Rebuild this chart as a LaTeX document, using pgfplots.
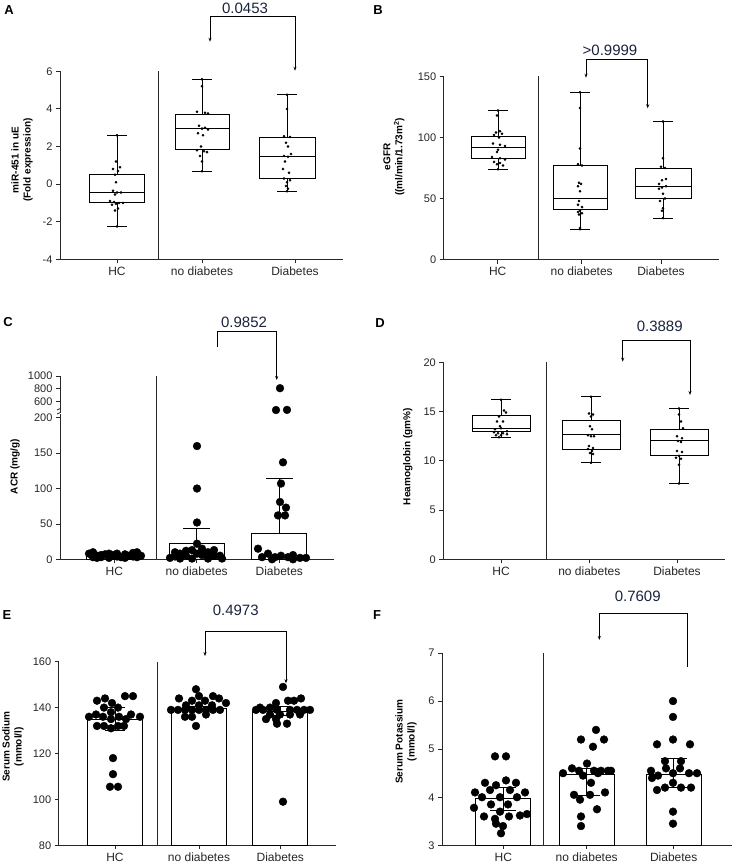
\documentclass[border=0pt]{standalone}
\usepackage{fontspec}
\setmainfont{Liberation Sans}
\usepackage{pgfplots}
\pgfplotsset{compat=1.18}
\usepgfplotslibrary{statistics}
\usetikzlibrary{arrows.meta}
\definecolor{pval}{RGB}{25,35,60}
\definecolor{axc}{RGB}{40,40,40}
\pgfplotsset{
  gp/.style={
    scale only axis, axis x line*=bottom, axis y line*=left,
    axis line style={-, line width=0.9pt, axc},
    tick style={line width=0.8pt, axc},
    tick align=outside, major tick length=4pt,
    tick label style={font=\fontsize{11}{13}\selectfont, text=black!85},
    xticklabel style={font=\fontsize{12}{14}\selectfont},
    /pgf/number format/assume math mode=true,
    /pgf/number format/1000 sep={},
    anchor=south west, boxplot/draw direction=y,
  },
  bx/.style={black, line width=0.9pt, solid},
  sdot/.style={only marks, mark=*, mark size=1.1pt, black},
  bdot/.style={only marks, mark=*, mark size=3.9pt, black},
  ebar/.style={ybar, bar width=55, fill=white, draw=black, line width=0.9pt,
    error bars/.cd, y dir=both, y explicit, error mark=none,
    error bar style={line width=0.9pt, black}},
  cap/.style={only marks, mark=-, mark size=#1, black, line width=0.9pt, mark options={line width=0.9pt}},
}
\tikzset{br/.style={line width=0.8pt, black, >={Stealth[length=4pt,width=3pt]}},
  pv/.style={text=pval, font=\fontsize{15}{17}\selectfont},
  yl/.style={rotate=90, align=center, font=\bfseries\fontsize{10}{12}\selectfont},
  pl/.style={font=\bfseries\fontsize{13}{15}\selectfont}}
\begin{document}
\begin{tikzpicture}
\useasboundingbox (0,0) rectangle (742pt,865pt);
% ---------------- A
\begin{axis}[gp, at={(60pt,605.7pt)}, width=283pt, height=188pt,
  xmin=60, xmax=343, ymin=-4, ymax=6, ytick={-4,-2,0,2,4,6},
  xtick={117,202,295}, xticklabels={HC,no diabetes,Diabetes}]
\addplot[bx, boxplot prepared={draw position=117, lower whisker=-2.25, lower quartile=-0.95, median=-0.45, upper quartile=0.5, upper whisker=2.6, box extend=55, whisker extend=20}] coordinates {};
\addplot[bx, boxplot prepared={draw position=202, lower whisker=0.68, lower quartile=1.82, median=2.95, upper quartile=3.72, upper whisker=5.58, box extend=54, whisker extend=20}] coordinates {};
\addplot[bx, boxplot prepared={draw position=287, lower whisker=-0.38, lower quartile=0.28, median=1.45, upper quartile=2.5, upper whisker=4.75, box extend=56, whisker extend=20}] coordinates {};
\addplot[sdot] coordinates {(117,2.6) (116,1.2) (120,0.9) (113,0.8) (118,0.7) (115,0.5) (116,0.1) (113,-0.35) (117,-0.45) (121,-0.45) (115,-0.55) (110,-0.9) (114,-0.95) (119,-1.0) (123,-1.0) (116,-1.05) (112,-1.1) (118,-1.3) (115,-1.4) (117,-2.25)};
\addplot[sdot] coordinates {(202,5.58) (202,5.2) (197,3.85) (205,3.8) (208,3.75) (199,3.1) (205,3.0) (202,2.95) (208,2.9) (198,2.7) (203,2.6) (201,2.0) (197,1.8) (204,1.75) (207,1.7) (200,1.5) (202,1.2) (202,0.68)};
\addplot[sdot] coordinates {(287,4.75) (287,4.0) (284,2.55) (290,2.5) (286,2.2) (288,2.0) (291,1.6) (284,1.5) (288,1.45) (285,1.2) (283,0.8) (289,0.6) (284,0.3) (290,0.2) (287,0.1) (286,-0.1) (288,-0.25) (287,-0.38)};
\end{axis}
% ---------------- B
\begin{axis}[gp, at={(443.7pt,605.3pt)}, width=275.3pt, height=183.4pt,
  xmin=443.7, xmax=719, ymin=0, ymax=150, ytick={0,50,100,150},
  xtick={497.7,581.7,661}, xticklabels={HC,no diabetes,Diabetes}]
\addplot[bx, boxplot prepared={draw position=498, lower whisker=74, lower quartile=83, median=92, upper quartile=101, upper whisker=122, box extend=54, whisker extend=20}] coordinates {};
\addplot[bx, boxplot prepared={draw position=580, lower whisker=25, lower quartile=41, median=50, upper quartile=77, upper whisker=137, box extend=54, whisker extend=20}] coordinates {};
\addplot[bx, boxplot prepared={draw position=663, lower whisker=34, lower quartile=50, median=60, upper quartile=75, upper whisker=113, box extend=56, whisker extend=20}] coordinates {};
\addplot[sdot] coordinates {(498,122) (497,118) (500,105) (496,104) (502,103) (494,102) (499,100) (493,95) (500,94) (505,93) (498,90) (497,88) (492,84) (500,83) (505,82) (494,80) (500,79) (497,78) (503,77) (498,74)};
\addplot[sdot] coordinates {(580,137) (580,124) (580,91) (578,78) (582,77) (579,63) (581,62) (578,60) (580,56) (579,48) (578,45) (582,43) (580,40) (578,39) (582,38) (579,37) (580,26) (580,25)};
\addplot[sdot] coordinates {(663,113) (663,83) (661,76) (665,75) (666,66) (662,65) (659,62) (666,60) (662,59) (659,58) (663,54) (665,50) (660,48) (663,42) (662,40) (663,34)};
\end{axis}
% ---------------- C lower
\begin{axis}[gp, at={(60pt,305.7pt)}, width=274pt, height=145.1pt,
  xmin=60, xmax=334, ymin=0, ymax=205, ytick={0,50,100,150,200},
  xtick={114.3,196.7,279.3}, xticklabels={HC,no diabetes,Diabetes}, clip=false]
\addplot[ebar] coordinates {(114.3,5) += (0,2) -= (0,0) (196.7,23) += (0,20) -= (0,0) (279.3,37) += (0,77) -= (0,0)};
\addplot[cap=13.5pt] coordinates {(114.3,7) (196.7,43) (279.3,114)};
\addplot[bdot] coordinates {(89,8) (93,10) (97,5) (101,3) (105,7) (109,2) (113,6) (117,4) (121,3) (125,7) (129,5) (133,9) (137,10) (141,5) (93,3) (101,6) (109,8) (117,8) (125,2) (133,4) (97,2) (137,3)};
\addplot[bdot] coordinates {(197,160) (197,100) (197,52) (197,22) (175,10) (170,2) (180,8) (186,5) (192,13) (202,15) (208,10) (214,13) (220,5) (222,1) (186,12) (192,1) (202,6) (208,1) (214,5) (175,4) (180,1) (197,8)};
\addplot[bdot] coordinates {(283,137) (281,107) (280,81) (286,73) (278,62) (285,62) (258,15) (262,3) (268,8) (275,3) (281,5) (288,3) (293,6) (300,2) (306,2) (272,0) (293,0)};
\end{axis}
% ---------------- C upper
\begin{axis}[gp, at={(60pt,452.4pt)}, width=274pt, height=36.6pt,
  axis x line=none, xmin=60, xmax=334, ymin=430, ymax=1000, ytick={600,800,1000}, clip=false]
\addplot[bdot] coordinates {(280,810) (276,470) (287,472)};
\end{axis}
% ---------------- D
\begin{axis}[gp, at={(443.3pt,305.7pt)}, width=281.7pt, height=197pt,
  xmin=443.3, xmax=725, ymin=0, ymax=20, ytick={0,5,10,15,20},
  xtick={501,589.3,677}, xticklabels={HC,no diabetes,Diabetes}]
\addplot[bx, boxplot prepared={draw position=501, lower whisker=12.4, lower quartile=13.0, median=13.3, upper quartile=14.6, upper whisker=16.2, box extend=58, whisker extend=20}] coordinates {};
\addplot[bx, boxplot prepared={draw position=591, lower whisker=9.8, lower quartile=11.2, median=12.7, upper quartile=14.1, upper whisker=16.5, box extend=58, whisker extend=20}] coordinates {};
\addplot[bx, boxplot prepared={draw position=679, lower whisker=7.7, lower quartile=10.5, median=12.1, upper quartile=13.2, upper whisker=15.3, box extend=58, whisker extend=20}] coordinates {};
\addplot[sdot] coordinates {(501,16.2) (504,15.1) (506,14.9) (499,14.5) (497,14.0) (503,14.0) (500,13.5) (501,13.3) (495,13.2) (507,13.0) (494,12.9) (498,12.8) (503,12.8) (507,12.7) (496,12.6) (501,12.6) (499,12.4)};
\addplot[sdot] coordinates {(591,16.5) (589,14.8) (593,14.7) (591,14.5) (590,13.5) (592,13.2) (588,12.6) (594,12.5) (591,12.5) (589,11.5) (593,11.3) (588,11.2) (592,11.0) (590,10.8) (593,10.7) (591,9.8)};
\addplot[sdot] coordinates {(679,15.3) (679,14.7) (681,14.0) (683,13.3) (677,12.5) (682,12.3) (678,12.0) (681,11.9) (677,11.0) (682,10.9) (679,10.5) (676,10.3) (681,10.2) (679,9.6) (679,7.7)};
\end{axis}
% ---------------- E
\begin{axis}[gp, at={(58.7pt,19.7pt)}, width=277.3pt, height=183.6pt,
  xmin=58.7, xmax=336, ymin=80, ymax=160, ytick={80,100,120,140,160},
  xtick={115,199,280.3}, xticklabels={HC,no diabetes,Diabetes}]
\addplot[ebar] coordinates {(115,135) +- (0,5) (199,139.5) +- (0,1) (280.3,138.5) +- (0,2)};
\addplot[cap=10pt] coordinates {(115,140) (115,130) (199,140.5) (199,138.5) (280.3,140.5) (280.3,136.5)};
\addplot[bdot] coordinates {(97,143) (105,144) (112,142) (125,145) (133,145) (104,140) (118,140) (111,138) (89,136) (96,137) (131,137) (140,136) (103,136) (119,136) (111,135) (126,135) (97,132) (104,132) (118,132) (124,132) (111,131) (113,118) (113,111) (110,105.5) (118,105.5)};
\addplot[bdot] coordinates {(196,148) (171,139) (178,139) (185,139) (192,139) (199,139) (206,139) (213,139) (220,139) (226,142) (179,144) (192,143) (205,143) (213,145) (219,144) (199,145) (186,141) (199,141) (212,141) (192,136) (206,137) (185,136) (196,132)};
\addplot[bdot] coordinates {(283,149) (301,144) (288,143) (294,143) (276,142) (256,139) (263,139) (270,140) (277,139) (290,139) (297,139) (304,139) (310,139) (260,140) (270,137) (280,137) (290,137) (300,137) (276,135) (266,135) (277,133) (287,133) (283,99)};
\end{axis}
% ---------------- F
\begin{axis}[gp, at={(442pt,19.7pt)}, width=290pt, height=192.3pt,
  xmin=442, xmax=732, ymin=3, ymax=7, ytick={3,4,5,6,7},
  xtick={503.3,586.7,673.7}, xticklabels={HC,no diabetes,Diabetes}]
\addplot[ebar] coordinates {(503.3,3.98) += (0,0.22) -= (0,0.25) (586.7,4.47) += (0,0.13) -= (0,0.44) (673.7,4.48) += (0,0.32) -= (0,0.28)};
\addplot[cap=13pt] coordinates {(503.3,4.2) (503.3,3.73) (586.7,4.6) (586.7,4.03) (673.7,4.8) (673.7,4.2)};
\addplot[bdot] coordinates {(495,4.85) (506,4.85) (485,4.3) (496,4.25) (506,4.35) (516,4.3) (475,4.1) (490,4.15) (510,4.15) (525,4.1) (482,4.0) (500,4.0) (517,4.0) (491,3.85) (508,3.85) (474,3.78) (500,3.7) (484,3.6) (495,3.55) (509,3.6) (520,3.62) (527,3.65) (496,3.45) (503,3.4) (501,3.25)};
\addplot[bdot] coordinates {(596,5.4) (581,5.2) (604,5.2) (593,5.05) (587,4.7) (572,4.6) (579,4.55) (594,4.55) (601,4.55) (608,4.55) (583,4.45) (598,4.5) (611,4.55) (563,4.5) (591,4.3) (574,4.05) (590,4.05) (605,4.1) (580,3.95) (597,3.75) (581,3.6) (581,3.4)};
\addplot[bdot] coordinates {(673,6.0) (673,5.67) (673,5.2) (657,5.1) (690,5.1) (665,4.75) (681,4.75) (651,4.55) (697,4.5) (666,4.6) (680,4.6) (658,4.45) (673,4.5) (689,4.5) (652,4.4) (673,4.3) (665,4.2) (681,4.2) (657,4.15) (691,4.2) (673,3.7) (673,3.45)};
\end{axis}
% ---------------- separators
\draw[line width=0.9pt, axc] (158.7pt,605.7pt) -- (158.7pt,793.7pt);
\draw[line width=0.9pt, axc] (538.7pt,605.3pt) -- (538.7pt,788.7pt);
\draw[line width=0.9pt, axc] (156pt,305.7pt) -- (156pt,489pt);
\draw[line width=0.9pt, axc] (546pt,305.7pt) -- (546pt,502.7pt);
\draw[line width=0.9pt, axc] (157pt,19.7pt) -- (157pt,203.3pt);
\draw[line width=0.9pt, axc] (543.7pt,19.7pt) -- (543.7pt,212pt);
% break marks on C
\draw[line width=0.8pt, axc] (57pt,451pt) -- (60pt,452.4pt);
\draw[line width=0.8pt, axc] (57pt,455pt) -- (60pt,456.4pt);
% ---------------- brackets
\draw[br, <->] (210pt,823.3pt) -- (210pt,849pt) -- (295pt,849pt) -- (295pt,794.3pt);
\node[pv] at (245pt,857pt) {0.0453};
\draw[br, <->] (586pt,787.3pt) -- (586pt,805.7pt) -- (647.7pt,805.7pt) -- (647.7pt,756.7pt);
\node[pv] at (610pt,815pt) {>0.9999};
\draw[br, ->] (217.3pt,517.7pt) -- (217.3pt,533.3pt) -- (276.7pt,533.3pt) -- (276.7pt,485pt);
\node[pv] at (244pt,543pt) {0.9852};
\draw[br, <->] (622.7pt,503.3pt) -- (622.7pt,525pt) -- (690pt,525pt) -- (690pt,470pt);
\node[pv] at (659.7pt,538.3pt) {0.3889};
\draw[br, <->] (205pt,209pt) -- (205pt,234pt) -- (286pt,234pt) -- (286pt,181.7pt);
\node[pv] at (235.7pt,255pt) {0.4973};
\draw[br, <-] (599.3pt,225pt) -- (599.3pt,251.7pt) -- (687.7pt,251.7pt) -- (687.7pt,198.3pt);
\node[pv] at (637.7pt,269pt) {0.7609};
% ---------------- y labels
\node[yl] at (22pt,705pt) {miR-451 in uE\\(Fold expression)};
\node[yl] at (394pt,708pt) {eGFR\\((ml/min/1.73m\textsuperscript{2})};
\node[yl] at (15pt,398.3pt) {ACR (mg/g)};
\node[yl] at (407.7pt,408.3pt) {Heamoglobin (gm\%)};
\node[yl] at (13pt,118.3pt) {Serum Sodium\\(mmol/l)};
\node[yl] at (406pt,123.3pt) {Serum Potassium\\(mmol/l)};
% ---------------- panel letters
\node[pl] at (9pt,855pt) {A};
\node[pl] at (378pt,855pt) {B};
\node[pl] at (8pt,543pt) {C};
\node[pl] at (380pt,541.7pt) {D};
\node[pl] at (7pt,250pt) {E};
\node[pl] at (377pt,250pt) {F};
\end{tikzpicture}
\end{document}
